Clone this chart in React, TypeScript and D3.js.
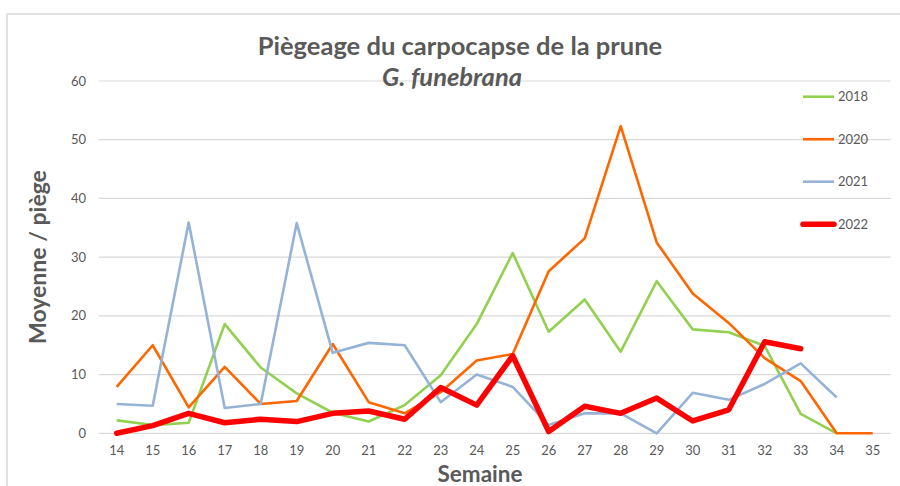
import React from "react";
import * as d3 from "d3";

// weeks on the x axis
const weeks = [14, 15, 16, 17, 18, 19, 20, 21, 22, 23, 24, 25, 26, 27, 28, 29, 30, 31, 32, 33, 34, 35];

// mean catches per trap (null = no data)
const s2018 = [2.2, 1.4, 1.8, 18.6, 11.2, 6.8, 3.5, 2.0, 4.8, 9.9, 18.6, 30.7, 17.3, 22.8, 13.9, 25.9, 17.7, 17.2, 14.9, 3.3, 0, null];
const s2020 = [7.9, 15.0, 4.4, 11.3, 5.0, 5.5, 15.2, 5.3, 3.4, 7.0, 12.4, 13.5, 27.6, 33.2, 52.3, 32.5, 23.8, 18.8, 12.8, 8.9, 0, 0];
const s2021 = [5.0, 4.7, 35.9, 4.3, 5.0, 35.8, 13.7, 15.4, 15.0, 5.3, 10.0, 7.9, 1.4, 3.4, 3.4, 0, 6.9, 5.7, 8.4, 11.9, 6.1, null];
const s2022 = [0, 1.3, 3.4, 1.8, 2.4, 2.0, 3.4, 3.8, 2.4, 7.8, 4.8, 13.2, 0.3, 4.6, 3.4, 6.0, 2.1, 4.0, 15.6, 14.4, null, null];

const seriesNames = ["2018", "2020", "2021", "2022"];
const yTicks = [0, 10, 20, 30, 40, 50, 60];

const colors = ["#92d050", "#ff6600", "#95b3d7", "#ff0000"];
const widths = [2.6, 2.6, 2.6, 5.5];

const font = "Lato, 'Open Sans', sans-serif";
const textColor = "#595959";

export default function App() {
  const width = 900,
    height = 486;
  const plot = { left: 98.7, right: 890.7, top: 81, bottom: 433.3 };

  const x = d3
    .scalePoint<number>()
    .domain(weeks)
    .range([plot.left, plot.right])
    .padding(0.5);

  const y = d3.scaleLinear().domain([0, 60]).range([plot.bottom, plot.top]);

  const allSeries = [s2018, s2020, s2021, s2022];

  const line = d3
    .line<number | null>()
    .defined((d) => d !== null)
    .x((d, i) => x(weeks[i]) as number)
    .y((d) => y(d as number));

  return (
    <svg
      width={width}
      height={height}
      style={{ position: "absolute", left: 0, top: 0, background: "#fff" }}
      fontFamily={font}
    >
      {/* chart frame */}
      <rect x={7} y={14} width={width} height={height} fill="none" stroke="#d9d9d9" strokeWidth={1.5} />

      {/* gridlines + y labels */}
      {yTicks.map((t) => (
        <g key={t}>
          <line x1={plot.left} x2={plot.right} y1={y(t)} y2={y(t)} stroke="#d9d9d9" strokeWidth={1.2} />
          <text x={86} y={y(t)} dy="0.35em" textAnchor="end" fontSize={13} fill={textColor}>
            {t}
          </text>
        </g>
      ))}

      {/* x labels */}
      {weeks.map((w) => (
        <text key={w} x={x(w)} y={455} textAnchor="middle" fontSize={13} fill={textColor}>
          {w}
        </text>
      ))}

      {/* series */}
      {allSeries.map((s, i) => (
        <path
          key={seriesNames[i]}
          d={line(s) || ""}
          fill="none"
          stroke={colors[i]}
          strokeWidth={widths[i]}
          strokeLinejoin="round"
          strokeLinecap={i === 3 ? "round" : "butt"}
        />
      ))}

      {/* legend */}
      {seriesNames.map((n, i) => {
        const ly = 96.7 + i * 42.5;
        return (
          <g key={n}>
            <line x1={803} x2={834} y1={ly} y2={ly} stroke={colors[i]} strokeWidth={widths[i]} strokeLinecap={i === 3 ? "round" : "butt"} />
            <text x={838} y={ly} dy="0.35em" fontSize={13} fill={textColor}>
              {n}
            </text>
          </g>
        );
      })}

      {/* titles */}
      <text x={460} y={55} textAnchor="middle" fontSize={25.5} fontWeight="bold" fill={textColor}>
        Piègeage du carpocapse de la prune
      </text>
      <text x={452} y={86} textAnchor="middle" fontSize={25.5} fontWeight="bold" fontStyle="italic" fill={textColor}>
        G. funebrana
      </text>
      <text x={480} y={482} textAnchor="middle" fontSize={22.5} fontWeight="bold" fill={textColor}>
        Semaine
      </text>
      <text
        transform={`translate(46, 257) rotate(-90)`}
        textAnchor="middle"
        fontSize={23}
        fontWeight="bold"
        fill={textColor}
      >
        Moyenne / piège
      </text>
    </svg>
  );
}
